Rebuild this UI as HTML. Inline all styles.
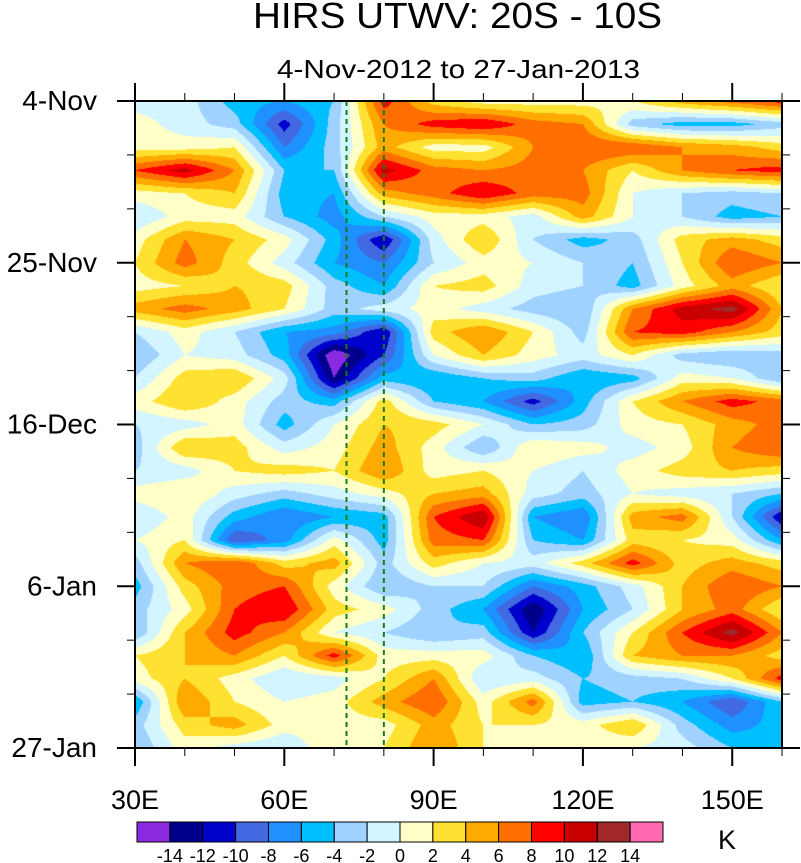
<!DOCTYPE html>
<html><head><meta charset="utf-8">
<style>
body{margin:0;background:#fff;width:801px;height:863px;overflow:hidden;font-family:"Liberation Sans",sans-serif;}
svg{position:absolute;left:0;top:0}
canvas{position:absolute;left:135px;top:101px}
</style></head><body>
<canvas id="cv" width="647" height="647"></canvas>
<svg id="sv" width="801" height="863"></svg>
<script>
const lons=[30,40,50,60,70,80,90,100,110,120,130,140,150,160];
const days=[0,3,6,9,12,15,18,21,24,27,30,33,36,39,42,45,48,51,54,57,60,63,66,69,72,75,78,81,84];
const vals=[
[-1,-1,-5,-6,-4,9,3,1,1,1,2,5,7,9],
[1,-1,-3,-11,-3,6,9,10,7,6,-3,-5,-5,-3],
[1,1,2,-8,-3,5,1,1,6,8,8,6,5,3],
[8,11,6,-4,-4,11,7,6,7,6,2,6,8,9],
[1,2,4,-5,-6,5,7,10,7,7,0,-2,-3,-2],
[-2,1,1,-4,-7,-2,1,1,-1,5,0,-2,-5,-4],
[1,6,4,1,-5,-12,-1,4,-2,-5,-3,3,5,3],
[2,7,3,-1,-6,-8,-2,1,0,-2,-4,2,8,6],
[1,2,4,3,-3,-6,2,3,-1,-2,-5,1,5,2],
[5,7,5,2,-3,-1,1,-1,-3,-4,6,11,13,4],
[-2,1,-2,-6,-7,-12,3,6,2,-3,8,9,6,3],
[-4,0,-1,-5,-16,-10,0,4,1,-1,2,-3,-4,-3],
[-2,3,4,-1,-14,-5,-6,-4,-3,-6,-5,1,0,-4],
[1,4,1,-3,-5,3,-4,-6,-11,-5,2,6,9,7],
[-2,-1,1,-5,0,4,3,0,-4,-3,1,2,5,7],
[-3,4,3,-1,1,5,1,-4,2,1,-1,1,6,8],
[-2,-1,2,3,2,6,1,2,0,-2,1,3,4,3],
[1,2,-1,-3,-1,1,4,5,-1,-3,0,-1,-2,-4],
[-2,1,-5,-8,-6,-5,8,12,-6,-8,5,7,-2,-12],
[0,2,-10,-7,1,-5,7,8,-4,-6,3,2,1,-6],
[-3,6,8,3,5,-3,3,0,-1,3,9,3,5,3],
[-5,3,7,8,1,-4,-2,-2,-8,-5,-1,4,8,6],
[-3,1,8,10,3,1,-3,-6,-14,-6,-2,4,7,2],
[-4,4,9,6,0,-2,-4,-3,-12,-4,2,8,13,6],
[2,4,6,2,9,1,1,1,-4,-6,4,6,6,3],
[1,4,1,-2,-1,2,6,-2,-1,-4,-3,-2,2,9],
[-6,6,2,0,1,5,8,1,7,-5,-4,-6,-10,-4],
[-3,3,5,1,1,1,5,2,2,1,4,-3,-7,-5],
[-4,1,-1,-2,2,2,6,2,0,1,0,-1,-4,-6]
];
const levels=[-14,-12,-10,-8,-6,-4,-2,0,2,4,6,8,10,12,14];
const colors=["#8a2be2","#00008b","#0000cd","#4169e1","#1e90ff","#00bfff","#a0d2ff","#d2f5ff","#ffffc8","#ffe132","#ffaa00","#ff6e00","#ff0000","#c80000","#a02828","#ff69b4"];
const labelLevels=["-14","-12","-10","-8","-6","-4","-2","0","2","4","6","8","10","12","14"];
const dateLabels=["4-Nov","25-Nov","16-Dec","6-Jan","27-Jan"];
const dateTicks=[0,21,42,63,84];
const lonLabels=["30E","60E","90E","120E","150E"];
const lonTicks=[30,60,90,120,150];
const refLons=[72.5,80];

const PX=135,PY=101,PW=647,PH=647;
const xs=l=>PX+(l-30)/130*PW;
const ys=d=>PY+d/84*PH;
function hex(c){return [parseInt(c.substr(1,2),16),parseInt(c.substr(3,2),16),parseInt(c.substr(5,2),16)];}
const rgb=colors.map(hex);
const cv=document.getElementById('cv'),ctx=cv.getContext('2d');
const img=ctx.createImageData(PW,PH);
for(let py=0;py<PH;py++){
  const d=(py+0.5)/PH*84;let j=Math.min(Math.floor(d/3),days.length-2);const fy=(d-days[j])/3;
  for(let px=0;px<PW;px++){
    const l=30+(px+0.5)/PW*130;let i=Math.min(Math.floor((l-30)/10),lons.length-2);const fx=(l-lons[i])/10;
    const v=vals[j][i]*(1-fx)*(1-fy)+vals[j][i+1]*fx*(1-fy)+vals[j+1][i]*(1-fx)*fy+vals[j+1][i+1]*fx*fy;
    let k=0;while(k<levels.length&&v>=levels[k])k++;
    const c=rgb[k],o=(py*PW+px)*4;img.data[o]=c[0];img.data[o+1]=c[1];img.data[o+2]=c[2];img.data[o+3]=255;
  }
}
ctx.putImageData(img,0,0);

const NS="http://www.w3.org/2000/svg",sv=document.getElementById('sv');
function el(t,a,txt){const e=document.createElementNS(NS,t);for(const k in a)e.setAttribute(k,a[k]);if(txt!==undefined)e.textContent=txt;sv.appendChild(e);return e;}
let e;
refLons.forEach(l=>{
  e=el('line',{x1:xs(l),x2:xs(l),y1:PY,y2:PY+PH,stroke:'#1a7a1a','stroke-width':2,'stroke-dasharray':'5,4'});
  
  
});
e=el('rect',{x:PX,y:PY,width:PW,height:PH,fill:'none',stroke:'#000','stroke-width':2});


for(let d=0;d<=84;d+=7){
  const maj=d%21===0,len=maj?18:8,y=ys(d);
  el('line',{x1:PX-len,x2:PX,y1:y,y2:y,stroke:'#000','stroke-width':maj?2:1});
  el('line',{x1:PX+PW,x2:PX+PW+len,y1:y,y2:y,stroke:'#000','stroke-width':maj?2:1});
}
for(let l=30;l<=160;l+=10){
  const maj=l%30===0,len=maj?18:8,x=xs(l);
  el('line',{x1:x,x2:x,y1:PY-len,y2:PY,stroke:'#000','stroke-width':maj?2:1});
  el('line',{x1:x,x2:x,y1:PY+PH,y2:PY+PH+len,stroke:'#000','stroke-width':maj?2:1});
}
dateLabels.forEach((t,i)=>{
  e=el('text',{x:97,y:ys(dateTicks[i])+9,'text-anchor':'end','font-size':28},t);
  
  
});
lonLabels.forEach((t,i)=>{
  e=el('text',{x:xs(lonTicks[i]),y:809,'text-anchor':'middle','font-size':27},t);
  
  
});
e=el('text',{x:253,y:28,'font-size':36,textLength:409,lengthAdjust:'spacingAndGlyphs'},'HIRS UTWV: 20S - 10S');


e=el('text',{x:277,y:78,'font-size':26,textLength:363,lengthAdjust:'spacingAndGlyphs'},'4-Nov-2012 to 27-Jan-2013');


const CBX=137,CBW=526,CBY=822,CBH=20,bw=CBW/colors.length;
colors.forEach((c,i)=>{
  e=el('rect',{x:CBX+i*bw,y:CBY,width:bw,height:CBH,fill:c,stroke:'#000','stroke-width':1});
  
  
});
labelLevels.forEach((t,i)=>{
  e=el('text',{x:CBX+(i+1)*bw,y:862,'text-anchor':'middle','font-size':18},t);
  
  
});
e=el('text',{x:727,y:849,'text-anchor':'middle','font-size':27},'K');


</script>
</body></html>
